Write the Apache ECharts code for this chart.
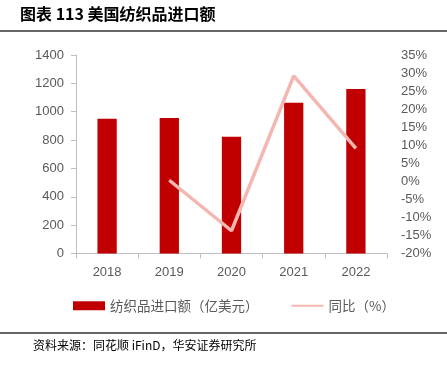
<!DOCTYPE html>
<html><head><meta charset="utf-8">
<script src="https://cdn.jsdelivr.net/npm/echarts@6/dist/echarts.min.js"></script>
<style>html,body{margin:0;padding:0;background:#fff}#c{width:447px;height:365px}</style>
</head><body><div id="c"></div>
<script>
const categories = ['2018','2019','2020','2021','2022'];
const importValues = [950, 955, 823, 1064, 1160];
const yoyValues = [null, 0.3, -13.7, 29.2, 9.1];
const barName = '纺织品进口额（亿美元）';
const lineName = '同比（%）';

const chart = echarts.init(document.getElementById('c'));
const axisLabel = {color:'#595959', fontSize:13, fontFamily:'Liberation Sans, Arial, sans-serif'};
chart.setOption({
  animation:false,
  grid:{left:76, right:60, top:55, bottom:111.5},
  graphic:[
    {type:'text', left:20, top:6, style:{text:'图表 113 美国纺织品进口额', fontSize:16, fontWeight:'bold', fill:'#000', fontFamily:'Noto Sans CJK SC'}},
    {type:'line', shape:{x1:0,y1:31,x2:447,y2:31}, style:{stroke:'#333', lineWidth:1.3}},
    {type:'line', shape:{x1:0,y1:333,x2:447,y2:333}, style:{stroke:'#333', lineWidth:1.3}},
    {type:'text', left:33, top:339, style:{text:'资料来源：同花顺 iFinD，华安证券研究所', fontSize:12, fill:'#000', fontFamily:'Noto Sans CJK SC'}}
  ],
  legend:{
    top:294, left:68, itemGap:32, itemWidth:32, itemHeight:9,
    textStyle:{color:'#595959', fontSize:13.5, fontFamily:'Noto Sans CJK SC'},
    data:[{name:barName, icon:'rect'}, {name:lineName, itemStyle:{opacity:0}}]
  },
  xAxis:{
    type:'category', data:categories, boundaryGap:true,
    axisLine:{lineStyle:{color:'#bfbfbf'}},
    axisTick:{show:true, alignWithLabel:false, length:5, lineStyle:{color:'#bfbfbf'}},
    axisLabel:Object.assign({margin:12}, axisLabel)
  },
  yAxis:[
    {type:'value', min:0, max:1400, interval:200,
     axisLine:{show:true, lineStyle:{color:'#bfbfbf'}},
     axisTick:{show:true, length:5, lineStyle:{color:'#bfbfbf'}},
     splitLine:{show:false},
     axisLabel:Object.assign({margin:12, formatter:function(v){return String(v);}}, axisLabel)},
    {type:'value', min:-20, max:35, interval:5, position:'right',
     axisLine:{show:false}, axisTick:{show:false}, splitLine:{show:false},
     axisLabel:Object.assign({margin:14, formatter:'{value}%'}, axisLabel)}
  ],
  series:[
    {name:barName, type:'bar', data:importValues, barWidth:'31%', itemStyle:{color:'#C00000'}},
    {name:lineName, type:'line', yAxisIndex:1, data:yoyValues, symbol:'none', lineStyle:{color:'#F4B6B0', width:3.5}, itemStyle:{color:'#F4B6B0'}}
  ]
});
</script></body></html>
